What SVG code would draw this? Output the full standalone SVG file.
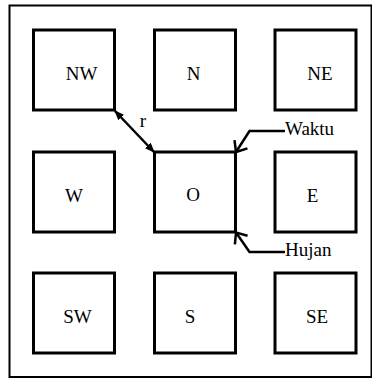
<svg xmlns="http://www.w3.org/2000/svg" width="372" height="378" viewBox="0 0 372 378">
  <style>
    .frame { fill: none; stroke: #000; stroke-width: 2; }
    .cell rect { fill: #fff; stroke: #000; stroke-width: 3; }
    .cell text, .label { font-family: "Liberation Serif", "DejaVu Serif", "Times New Roman", serif; font-size: 19px; fill: #000; }
    .cell text { text-anchor: middle; }
    .wire { fill: none; stroke: #000; stroke-width: 2.5; }
  </style>
  <defs>
    <marker id="solidHead" viewBox="0 0 10 8" refX="9" refY="4" markerWidth="10" markerHeight="8" markerUnits="userSpaceOnUse" orient="auto-start-reverse">
      <path d="M0,0 L10,4 L0,8 z" fill="#000"/>
    </marker>
    <marker id="openHead" viewBox="-12 -10 14 20" refX="0" refY="0" markerWidth="14" markerHeight="20" markerUnits="userSpaceOnUse" orient="auto" overflow="visible">
      <path d="M-9.2,-7.7 L0,0 L-9.2,7.7" fill="none" stroke="#000" stroke-width="2.5"/>
    </marker>
  </defs>

  <!-- outer border -->
  <rect class="frame" x="9.5" y="5.5" width="362" height="371.5"/>

  <!-- 3x3 grid of cells -->
  <g id="NW" class="cell"><rect x="33.5" y="30" width="81" height="80"/><text x="81.5" y="80">NW</text></g>
  <g id="N" class="cell"><rect x="154.5" y="30" width="81" height="80"/><text x="193.5" y="80">N</text></g>
  <g id="NE" class="cell"><rect x="275" y="30" width="81" height="80"/><text x="320" y="80">NE</text></g>

  <g id="W" class="cell"><rect x="33.5" y="152" width="81" height="80"/><text x="74" y="201.5">W</text></g>
  <g id="O" class="cell"><rect x="154.5" y="152" width="81" height="80"/><text x="193" y="200.5">O</text></g>
  <g id="E" class="cell"><rect x="275" y="152" width="81" height="80"/><text x="312.5" y="202">E</text></g>

  <g id="SW" class="cell"><rect x="33.5" y="273" width="81" height="80"/><text x="77.5" y="322.5">SW</text></g>
  <g id="S" class="cell"><rect x="154.5" y="273" width="81" height="80"/><text x="190" y="322.5">S</text></g>
  <g id="SE" class="cell"><rect x="275" y="273" width="81" height="80"/><text x="317" y="322.5">SE</text></g>

  <!-- connectors -->
  <g id="connectors">
    <path class="wire" d="M115,111 L154,152" marker-start="url(#solidHead)" marker-end="url(#solidHead)"/>
    <text class="label" x="143" y="127" text-anchor="middle">r</text>

    <path class="wire" d="M285,131 L249.5,131 L236,152" marker-end="url(#openHead)"/>
    <text class="label" x="285" y="135">Waktu</text>

    <path class="wire" d="M285,252 L249.5,252 L236,232.5" marker-end="url(#openHead)"/>
    <text class="label" x="285" y="256">Hujan</text>
  </g>
</svg>
